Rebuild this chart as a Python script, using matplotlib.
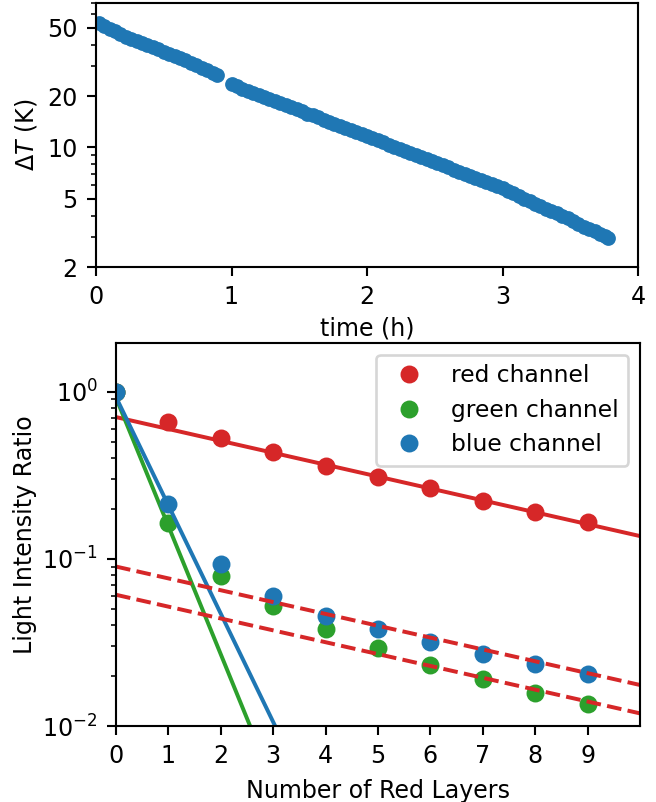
import matplotlib
matplotlib.use('Agg')
import matplotlib.pyplot as plt
from matplotlib.ticker import NullFormatter

# top panel: temperature difference during cooling
time_h_1 = [0.02, 0.06, 0.10, 0.14, 0.18, 0.22, 0.26, 0.30, 0.34, 0.38, 0.42, 0.46,
            0.50, 0.54, 0.58, 0.62, 0.66, 0.70, 0.74, 0.78, 0.82, 0.86, 0.89]
dT_1 = [53.5, 51.5, 49.6, 47.7, 45.9, 44.4, 43.2, 42.0, 40.8, 39.7, 38.6, 37.5,
        36.4, 35.3, 34.3, 33.3, 32.3, 31.3, 30.3, 29.2, 28.3, 27.3, 26.6]
time_h_2 = [1.00, 1.04, 1.08, 1.12, 1.16, 1.20, 1.24, 1.28, 1.32, 1.36, 1.40, 1.44,
            1.48, 1.52, 1.56, 1.60, 1.64, 1.68, 1.72, 1.76, 1.80, 1.84, 1.88, 1.92,
            1.96, 2.00, 2.04, 2.08, 2.12, 2.16, 2.20, 2.24, 2.28, 2.32, 2.36, 2.40,
            2.44, 2.48, 2.52, 2.56, 2.60, 2.64, 2.68, 2.72, 2.76, 2.80, 2.84, 2.88,
            2.92, 2.96, 3.00, 3.04, 3.08, 3.12, 3.16, 3.20, 3.24, 3.28, 3.32, 3.36,
            3.40, 3.44, 3.48, 3.52, 3.56, 3.60, 3.64, 3.68, 3.72, 3.76, 3.78]
dT_2 = [23.4, 22.8, 22.1, 21.5, 20.9, 20.3, 19.8, 19.2, 18.7, 18.2, 17.7, 17.2,
        16.7, 16.3, 15.8, 15.4, 15.0, 14.5, 14.1, 13.8, 13.4, 13.0, 12.6, 12.3,
        11.95, 11.6, 11.3, 11.0, 10.7, 10.4, 10.1, 9.83, 9.55, 9.29, 9.03, 8.78,
        8.54, 8.31, 8.08, 7.85, 7.64, 7.43, 7.22, 7.02, 6.83, 6.64, 6.46, 6.28,
        6.10, 5.94, 5.77, 5.60, 5.42, 5.21, 5.03, 4.88, 4.70, 4.55, 4.39, 4.24,
        4.12, 3.96, 3.85, 3.70, 3.58, 3.44, 3.34, 3.23, 3.12, 3.02, 2.96]
top_xticks = [0, 1, 2, 3, 4]
top_yticks = [2, 5, 10, 20, 50]

# bottom panel: light transmitted through red layers
layers = [0, 1, 2, 3, 4, 5, 6, 7, 8, 9]
red_ratio = [1.0, 0.664, 0.528, 0.439, 0.36, 0.309, 0.264, 0.223, 0.192, 0.167]
green_ratio = [1.0, 0.165, 0.079, 0.0525, 0.0383, 0.0292, 0.0232, 0.019, 0.0158, 0.0135]
blue_ratio = [1.0, 0.213, 0.0933, 0.060, 0.0456, 0.0379, 0.032, 0.027, 0.0234, 0.0205]

# fitted lines (end points)
red_fit_x = [0, 10]
red_fit_y = [0.706, 0.137]
green_fit_x = [0, 2.6]
green_fit_y = [0.92, 0.0093]
blue_fit_x = [0, 3.1]
blue_fit_y = [0.93, 0.0091]
dash_hi_y = [0.090, 0.0176]
dash_lo_y = [0.061, 0.0119]

plt.rcParams['font.size'] = 9

fig = plt.figure(figsize=(656 / 190, 802 / 190), dpi=190)

ax1 = fig.add_axes([96 / 656, 1 - 267 / 802, 542 / 656, 264 / 802])
ax1.plot(time_h_1, dT_1, 'o', color='tab:blue', ms=5.6, mew=0)
ax1.plot(time_h_2, dT_2, 'o', color='tab:blue', ms=5.6, mew=0)
ax1.set_yscale('log')
ax1.set_xlim(0, 4)
ax1.set_ylim(2, 70)
ax1.set_xticks(top_xticks)
ax1.set_yticks(top_yticks)
ax1.set_yticklabels([str(v) for v in top_yticks])
ax1.yaxis.set_minor_formatter(NullFormatter())
ax1.set_xlabel('time (h)', labelpad=2.5)
ax1.set_ylabel(r'$\Delta T$ (K)', labelpad=3)

ax2 = fig.add_axes([116 / 656, 1 - 726 / 802, 524 / 656, 383 / 802])
ax2.plot(layers, red_ratio, 'o', color='tab:red', ms=5.8, label='red channel')
ax2.plot(red_fit_x, red_fit_y, '-', color='tab:red')
ax2.plot(layers, green_ratio, 'o', color='tab:green', ms=5.8, label='green channel')
ax2.plot(green_fit_x, green_fit_y, '-', color='tab:green')
ax2.plot(layers, blue_ratio, 'o', color='tab:blue', ms=5.8, label='blue channel')
ax2.plot(blue_fit_x, blue_fit_y, '-', color='tab:blue')
ax2.plot(red_fit_x, dash_hi_y, '--', color='tab:red')
ax2.plot(red_fit_x, dash_lo_y, '--', color='tab:red')
ax2.set_yscale('log')
ax2.set_xlim(0, 10)
ax2.set_ylim(0.01, 1.96)
ax2.set_xticks(layers)
ax2.set_xlabel('Number of Red Layers')
ax2.set_ylabel('Light Intensity Ratio', labelpad=2)
ax2.legend(loc='upper right', fontsize=8.85)

fig.savefig('out.png', dpi=190)
